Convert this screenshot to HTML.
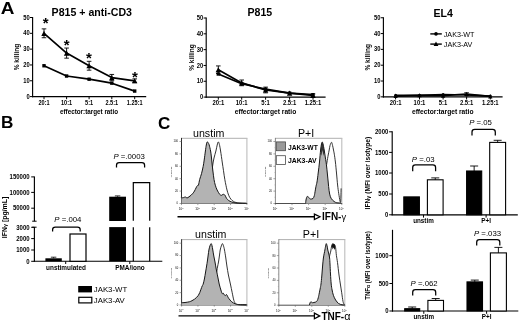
<!DOCTYPE html>
<html lang="en"><head><meta charset="utf-8"><title>Figure</title>
<style>html,body{margin:0;padding:0;background:#fff;}body{width:520px;height:322px;overflow:hidden;}svg{display:block;font-family:'Liberation Sans', sans-serif;}text{fill:#000;}</style>
</head><body>
<svg width="520" height="322" viewBox="0 0 520 322" role="img" aria-label="Figure panels A, B and C">
<rect x="0" y="0" width="520" height="322" fill="#fff"/>
<text x="0.7" y="14.0" font-size="17.2" font-weight="bold" text-anchor="start" textLength="13.7" lengthAdjust="spacingAndGlyphs">A</text>
<text x="1.0" y="128.1" font-size="17.3" font-weight="bold" text-anchor="start" textLength="12.4" lengthAdjust="spacingAndGlyphs">B</text>
<text x="158.1" y="129.1" font-size="17.2" font-weight="bold" text-anchor="start" textLength="12.3" lengthAdjust="spacingAndGlyphs">C</text>
<line x1="32.6" y1="17.0" x2="32.6" y2="97.14999999999999" stroke="#000" stroke-width="1.15" stroke-linecap="butt"/>
<line x1="32.050000000000004" y1="96.6" x2="146.2" y2="96.6" stroke="#000" stroke-width="1.15" stroke-linecap="butt"/>
<line x1="30.0" y1="96.6" x2="32.6" y2="96.6" stroke="#000" stroke-width="1.0" stroke-linecap="butt"/>
<text x="29.700000000000003" y="98.7" font-size="6.3" font-weight="bold" text-anchor="end" textLength="3.23" lengthAdjust="spacingAndGlyphs">0</text>
<line x1="30.0" y1="80.78" x2="32.6" y2="80.78" stroke="#000" stroke-width="1.0" stroke-linecap="butt"/>
<text x="29.700000000000003" y="82.88" font-size="6.3" font-weight="bold" text-anchor="end" textLength="6.45" lengthAdjust="spacingAndGlyphs">10</text>
<line x1="30.0" y1="64.96" x2="32.6" y2="64.96" stroke="#000" stroke-width="1.0" stroke-linecap="butt"/>
<text x="29.700000000000003" y="67.06" font-size="6.3" font-weight="bold" text-anchor="end" textLength="6.45" lengthAdjust="spacingAndGlyphs">20</text>
<line x1="30.0" y1="49.13999999999999" x2="32.6" y2="49.13999999999999" stroke="#000" stroke-width="1.0" stroke-linecap="butt"/>
<text x="29.700000000000003" y="51.24" font-size="6.3" font-weight="bold" text-anchor="end" textLength="6.45" lengthAdjust="spacingAndGlyphs">30</text>
<line x1="30.0" y1="33.31999999999999" x2="32.6" y2="33.31999999999999" stroke="#000" stroke-width="1.0" stroke-linecap="butt"/>
<text x="29.700000000000003" y="35.42" font-size="6.3" font-weight="bold" text-anchor="end" textLength="6.45" lengthAdjust="spacingAndGlyphs">40</text>
<line x1="30.0" y1="17.5" x2="32.6" y2="17.5" stroke="#000" stroke-width="1.0" stroke-linecap="butt"/>
<text x="29.700000000000003" y="19.6" font-size="6.3" font-weight="bold" text-anchor="end" textLength="6.45" lengthAdjust="spacingAndGlyphs">50</text>
<line x1="44" y1="96.6" x2="44" y2="99.19999999999999" stroke="#000" stroke-width="1.0" stroke-linecap="butt"/>
<text x="44" y="104.8" font-size="6.3" font-weight="bold" text-anchor="middle" textLength="11.11" lengthAdjust="spacingAndGlyphs">20:1</text>
<line x1="66.6" y1="96.6" x2="66.6" y2="99.19999999999999" stroke="#000" stroke-width="1.0" stroke-linecap="butt"/>
<text x="66.6" y="104.8" font-size="6.3" font-weight="bold" text-anchor="middle" textLength="11.11" lengthAdjust="spacingAndGlyphs">10:1</text>
<line x1="89.1" y1="96.6" x2="89.1" y2="99.19999999999999" stroke="#000" stroke-width="1.0" stroke-linecap="butt"/>
<text x="89.1" y="104.8" font-size="6.3" font-weight="bold" text-anchor="middle" textLength="8.02" lengthAdjust="spacingAndGlyphs">5:1</text>
<line x1="111.8" y1="96.6" x2="111.8" y2="99.19999999999999" stroke="#000" stroke-width="1.0" stroke-linecap="butt"/>
<text x="111.8" y="104.8" font-size="6.3" font-weight="bold" text-anchor="middle" textLength="12.65" lengthAdjust="spacingAndGlyphs">2.5:1</text>
<line x1="134.7" y1="96.6" x2="134.7" y2="99.19999999999999" stroke="#000" stroke-width="1.0" stroke-linecap="butt"/>
<text x="134.7" y="104.8" font-size="6.3" font-weight="bold" text-anchor="middle" textLength="15.74" lengthAdjust="spacingAndGlyphs">1.25:1</text>
<text x="89" y="113.9" font-size="6.3" font-weight="bold" text-anchor="middle">effector:target ratio</text>
<text x="18.9" y="57.0" font-size="6.55" font-weight="bold" text-anchor="middle" transform="rotate(-90 18.9 57.0)">% killing</text>
<text x="91.8" y="15.5" font-size="10.6" font-weight="bold" text-anchor="middle">P815 + anti-CD3</text>
<line x1="44" y1="28.8904" x2="44" y2="37.749599999999994" stroke="#000" stroke-width="0.9" stroke-linecap="butt"/>
<line x1="41.7" y1="28.8904" x2="46.3" y2="28.8904" stroke="#000" stroke-width="0.9" stroke-linecap="butt"/>
<line x1="41.7" y1="37.749599999999994" x2="46.3" y2="37.749599999999994" stroke="#000" stroke-width="0.9" stroke-linecap="butt"/>
<line x1="66.6" y1="48.032599999999995" x2="66.6" y2="58.157399999999996" stroke="#000" stroke-width="0.9" stroke-linecap="butt"/>
<line x1="64.3" y1="48.032599999999995" x2="68.89999999999999" y2="48.032599999999995" stroke="#000" stroke-width="0.9" stroke-linecap="butt"/>
<line x1="64.3" y1="58.157399999999996" x2="68.89999999999999" y2="58.157399999999996" stroke="#000" stroke-width="0.9" stroke-linecap="butt"/>
<line x1="89.1" y1="61.3214" x2="89.1" y2="70.1806" stroke="#000" stroke-width="0.9" stroke-linecap="butt"/>
<line x1="86.8" y1="61.3214" x2="91.39999999999999" y2="61.3214" stroke="#000" stroke-width="0.9" stroke-linecap="butt"/>
<line x1="86.8" y1="70.1806" x2="91.39999999999999" y2="70.1806" stroke="#000" stroke-width="0.9" stroke-linecap="butt"/>
<line x1="111.8" y1="74.452" x2="111.8" y2="80.78" stroke="#000" stroke-width="0.9" stroke-linecap="butt"/>
<line x1="109.5" y1="74.452" x2="114.1" y2="74.452" stroke="#000" stroke-width="0.9" stroke-linecap="butt"/>
<line x1="109.5" y1="80.78" x2="114.1" y2="80.78" stroke="#000" stroke-width="0.9" stroke-linecap="butt"/>
<line x1="134.7" y1="78.88159999999999" x2="134.7" y2="82.6784" stroke="#000" stroke-width="0.9" stroke-linecap="butt"/>
<line x1="132.39999999999998" y1="78.88159999999999" x2="137.0" y2="78.88159999999999" stroke="#000" stroke-width="0.9" stroke-linecap="butt"/>
<line x1="132.39999999999998" y1="82.6784" x2="137.0" y2="82.6784" stroke="#000" stroke-width="0.9" stroke-linecap="butt"/>
<path d="M44.0 65.8 L66.6 76.0 L89.1 79.2 L111.8 83.2 L134.7 91.1" fill="none" stroke="#000" stroke-width="1.7" stroke-linejoin="round"/>
<path d="M44.0 33.3 L66.6 53.1 L89.1 65.8 L111.8 77.6 L134.7 80.8" fill="none" stroke="#000" stroke-width="1.7" stroke-linejoin="round"/>
<rect x="42.30" y="64.05" width="3.4" height="3.4" fill="#000"/>
<rect x="64.90" y="74.33" width="3.4" height="3.4" fill="#000"/>
<rect x="87.40" y="77.50" width="3.4" height="3.4" fill="#000"/>
<rect x="110.10" y="81.45" width="3.4" height="3.4" fill="#000"/>
<rect x="133.00" y="89.36" width="3.4" height="3.4" fill="#000"/>
<path d="M44.00 30.75 L46.70 35.88 L41.30 35.88 Z" fill="#000"/>
<path d="M66.60 50.53 L69.30 55.66 L63.90 55.66 Z" fill="#000"/>
<path d="M89.10 63.19 L91.80 68.32 L86.40 68.32 Z" fill="#000"/>
<path d="M111.80 75.05 L114.50 80.18 L109.10 80.18 Z" fill="#000"/>
<path d="M134.70 78.22 L137.40 83.34 L132.00 83.34 Z" fill="#000"/>
<text x="45.6" y="28.2" font-size="15" font-weight="bold" text-anchor="middle">*</text>
<text x="66.6" y="49.6" font-size="15" font-weight="bold" text-anchor="middle">*</text>
<text x="89" y="63" font-size="15" font-weight="bold" text-anchor="middle">*</text>
<text x="135" y="81.6" font-size="15" font-weight="bold" text-anchor="middle">*</text>
<line x1="206.2" y1="17.5" x2="206.2" y2="97.64999999999999" stroke="#000" stroke-width="1.15" stroke-linecap="butt"/>
<line x1="205.64999999999998" y1="97.1" x2="325.6" y2="97.1" stroke="#000" stroke-width="1.15" stroke-linecap="butt"/>
<line x1="203.6" y1="97.1" x2="206.2" y2="97.1" stroke="#000" stroke-width="1.0" stroke-linecap="butt"/>
<text x="203.29999999999998" y="99.2" font-size="6.3" font-weight="bold" text-anchor="end" textLength="3.23" lengthAdjust="spacingAndGlyphs">0</text>
<line x1="203.6" y1="81.28" x2="206.2" y2="81.28" stroke="#000" stroke-width="1.0" stroke-linecap="butt"/>
<text x="203.29999999999998" y="83.38" font-size="6.3" font-weight="bold" text-anchor="end" textLength="6.45" lengthAdjust="spacingAndGlyphs">10</text>
<line x1="203.6" y1="65.46" x2="206.2" y2="65.46" stroke="#000" stroke-width="1.0" stroke-linecap="butt"/>
<text x="203.29999999999998" y="67.56" font-size="6.3" font-weight="bold" text-anchor="end" textLength="6.45" lengthAdjust="spacingAndGlyphs">20</text>
<line x1="203.6" y1="49.63999999999999" x2="206.2" y2="49.63999999999999" stroke="#000" stroke-width="1.0" stroke-linecap="butt"/>
<text x="203.29999999999998" y="51.74" font-size="6.3" font-weight="bold" text-anchor="end" textLength="6.45" lengthAdjust="spacingAndGlyphs">30</text>
<line x1="203.6" y1="33.81999999999999" x2="206.2" y2="33.81999999999999" stroke="#000" stroke-width="1.0" stroke-linecap="butt"/>
<text x="203.29999999999998" y="35.92" font-size="6.3" font-weight="bold" text-anchor="end" textLength="6.45" lengthAdjust="spacingAndGlyphs">40</text>
<line x1="203.6" y1="18.0" x2="206.2" y2="18.0" stroke="#000" stroke-width="1.0" stroke-linecap="butt"/>
<text x="203.29999999999998" y="20.1" font-size="6.3" font-weight="bold" text-anchor="end" textLength="6.45" lengthAdjust="spacingAndGlyphs">50</text>
<line x1="218.3" y1="97.1" x2="218.3" y2="99.69999999999999" stroke="#000" stroke-width="1.0" stroke-linecap="butt"/>
<text x="218.3" y="105.1" font-size="6.3" font-weight="bold" text-anchor="middle" textLength="11.78" lengthAdjust="spacingAndGlyphs">20:1</text>
<line x1="241.7" y1="97.1" x2="241.7" y2="99.69999999999999" stroke="#000" stroke-width="1.0" stroke-linecap="butt"/>
<text x="241.7" y="105.1" font-size="6.3" font-weight="bold" text-anchor="middle" textLength="11.78" lengthAdjust="spacingAndGlyphs">10:1</text>
<line x1="265.6" y1="97.1" x2="265.6" y2="99.69999999999999" stroke="#000" stroke-width="1.0" stroke-linecap="butt"/>
<text x="265.6" y="105.1" font-size="6.3" font-weight="bold" text-anchor="middle" textLength="8.5" lengthAdjust="spacingAndGlyphs">5:1</text>
<line x1="289.6" y1="97.1" x2="289.6" y2="99.69999999999999" stroke="#000" stroke-width="1.0" stroke-linecap="butt"/>
<text x="289.6" y="105.1" font-size="6.3" font-weight="bold" text-anchor="middle" textLength="13.41" lengthAdjust="spacingAndGlyphs">2.5:1</text>
<line x1="313.0" y1="97.1" x2="313.0" y2="99.69999999999999" stroke="#000" stroke-width="1.0" stroke-linecap="butt"/>
<text x="313.0" y="105.1" font-size="6.3" font-weight="bold" text-anchor="middle" textLength="16.68" lengthAdjust="spacingAndGlyphs">1.25:1</text>
<text x="265.5" y="114.4" font-size="6.68" font-weight="bold" text-anchor="middle">effector:target ratio</text>
<text x="193.9" y="57.5" font-size="6.55" font-weight="bold" text-anchor="middle" transform="rotate(-90 193.9 57.5)">% killing</text>
<text x="259.8" y="15.5" font-size="10.6" font-weight="bold" text-anchor="middle">P815</text>
<line x1="218.3" y1="65.9346" x2="218.3" y2="73.5282" stroke="#000" stroke-width="0.9" stroke-linecap="butt"/>
<line x1="216.0" y1="65.9346" x2="220.60000000000002" y2="65.9346" stroke="#000" stroke-width="0.9" stroke-linecap="butt"/>
<line x1="216.0" y1="73.5282" x2="220.60000000000002" y2="73.5282" stroke="#000" stroke-width="0.9" stroke-linecap="butt"/>
<line x1="241.7" y1="80.0144" x2="241.7" y2="85.7096" stroke="#000" stroke-width="0.9" stroke-linecap="butt"/>
<line x1="239.39999999999998" y1="80.0144" x2="244.0" y2="80.0144" stroke="#000" stroke-width="0.9" stroke-linecap="butt"/>
<line x1="239.39999999999998" y1="85.7096" x2="244.0" y2="85.7096" stroke="#000" stroke-width="0.9" stroke-linecap="butt"/>
<line x1="265.6" y1="87.1334" x2="265.6" y2="92.8286" stroke="#000" stroke-width="0.9" stroke-linecap="butt"/>
<line x1="263.3" y1="87.1334" x2="267.90000000000003" y2="87.1334" stroke="#000" stroke-width="0.9" stroke-linecap="butt"/>
<line x1="263.3" y1="92.8286" x2="267.90000000000003" y2="92.8286" stroke="#000" stroke-width="0.9" stroke-linecap="butt"/>
<line x1="313.0" y1="93.93599999999999" x2="313.0" y2="97.1" stroke="#000" stroke-width="0.9" stroke-linecap="butt"/>
<line x1="310.7" y1="93.93599999999999" x2="315.3" y2="93.93599999999999" stroke="#000" stroke-width="0.9" stroke-linecap="butt"/>
<line x1="310.7" y1="97.1" x2="315.3" y2="97.1" stroke="#000" stroke-width="0.9" stroke-linecap="butt"/>
<path d="M218.3 74.0 L241.7 83.7 L265.6 89.2 L289.6 93.1 L313.0 94.7" fill="none" stroke="#000" stroke-width="1.7" stroke-linejoin="round"/>
<path d="M218.3 69.7 L241.7 82.9 L265.6 90.0 L289.6 93.1 L313.0 95.5" fill="none" stroke="#000" stroke-width="1.7" stroke-linejoin="round"/>
<rect x="216.60" y="72.30" width="3.4" height="3.4" fill="#000"/>
<rect x="240.00" y="81.95" width="3.4" height="3.4" fill="#000"/>
<rect x="263.90" y="87.49" width="3.4" height="3.4" fill="#000"/>
<rect x="287.90" y="91.44" width="3.4" height="3.4" fill="#000"/>
<rect x="311.30" y="93.03" width="3.4" height="3.4" fill="#000"/>
<path d="M218.30 67.17 L221.00 72.30 L215.60 72.30 Z" fill="#000"/>
<path d="M241.70 80.30 L244.40 85.43 L239.00 85.43 Z" fill="#000"/>
<path d="M265.60 87.42 L268.30 92.55 L262.90 92.55 Z" fill="#000"/>
<path d="M289.60 90.58 L292.30 95.71 L286.90 95.71 Z" fill="#000"/>
<path d="M313.00 92.95 L315.70 98.08 L310.30 98.08 Z" fill="#000"/>
<line x1="383.4" y1="17.25" x2="383.4" y2="97.39999999999999" stroke="#000" stroke-width="1.15" stroke-linecap="butt"/>
<line x1="382.84999999999997" y1="96.85" x2="502.6" y2="96.85" stroke="#000" stroke-width="1.15" stroke-linecap="butt"/>
<line x1="380.79999999999995" y1="96.85" x2="383.4" y2="96.85" stroke="#000" stroke-width="1.0" stroke-linecap="butt"/>
<text x="380.5" y="98.95" font-size="6.3" font-weight="bold" text-anchor="end" textLength="3.23" lengthAdjust="spacingAndGlyphs">0</text>
<line x1="380.79999999999995" y1="81.03" x2="383.4" y2="81.03" stroke="#000" stroke-width="1.0" stroke-linecap="butt"/>
<text x="380.5" y="83.13" font-size="6.3" font-weight="bold" text-anchor="end" textLength="6.45" lengthAdjust="spacingAndGlyphs">10</text>
<line x1="380.79999999999995" y1="65.21" x2="383.4" y2="65.21" stroke="#000" stroke-width="1.0" stroke-linecap="butt"/>
<text x="380.5" y="67.31" font-size="6.3" font-weight="bold" text-anchor="end" textLength="6.45" lengthAdjust="spacingAndGlyphs">20</text>
<line x1="380.79999999999995" y1="49.38999999999999" x2="383.4" y2="49.38999999999999" stroke="#000" stroke-width="1.0" stroke-linecap="butt"/>
<text x="380.5" y="51.49" font-size="6.3" font-weight="bold" text-anchor="end" textLength="6.45" lengthAdjust="spacingAndGlyphs">30</text>
<line x1="380.79999999999995" y1="33.56999999999999" x2="383.4" y2="33.56999999999999" stroke="#000" stroke-width="1.0" stroke-linecap="butt"/>
<text x="380.5" y="35.67" font-size="6.3" font-weight="bold" text-anchor="end" textLength="6.45" lengthAdjust="spacingAndGlyphs">40</text>
<line x1="380.79999999999995" y1="17.75" x2="383.4" y2="17.75" stroke="#000" stroke-width="1.0" stroke-linecap="butt"/>
<text x="380.5" y="19.85" font-size="6.3" font-weight="bold" text-anchor="end" textLength="6.45" lengthAdjust="spacingAndGlyphs">50</text>
<line x1="395.6" y1="96.85" x2="395.6" y2="99.44999999999999" stroke="#000" stroke-width="1.0" stroke-linecap="butt"/>
<text x="395.6" y="104.9" font-size="6.3" font-weight="bold" text-anchor="middle" textLength="11.78" lengthAdjust="spacingAndGlyphs">20:1</text>
<line x1="419.5" y1="96.85" x2="419.5" y2="99.44999999999999" stroke="#000" stroke-width="1.0" stroke-linecap="butt"/>
<text x="419.5" y="104.9" font-size="6.3" font-weight="bold" text-anchor="middle" textLength="11.78" lengthAdjust="spacingAndGlyphs">10:1</text>
<line x1="443.1" y1="96.85" x2="443.1" y2="99.44999999999999" stroke="#000" stroke-width="1.0" stroke-linecap="butt"/>
<text x="443.1" y="104.9" font-size="6.3" font-weight="bold" text-anchor="middle" textLength="8.5" lengthAdjust="spacingAndGlyphs">5:1</text>
<line x1="466.6" y1="96.85" x2="466.6" y2="99.44999999999999" stroke="#000" stroke-width="1.0" stroke-linecap="butt"/>
<text x="466.6" y="104.9" font-size="6.3" font-weight="bold" text-anchor="middle" textLength="13.41" lengthAdjust="spacingAndGlyphs">2.5:1</text>
<line x1="490.3" y1="96.85" x2="490.3" y2="99.44999999999999" stroke="#000" stroke-width="1.0" stroke-linecap="butt"/>
<text x="490.3" y="104.9" font-size="6.3" font-weight="bold" text-anchor="middle" textLength="16.68" lengthAdjust="spacingAndGlyphs">1.25:1</text>
<text x="442.7" y="114.1" font-size="6.68" font-weight="bold" text-anchor="middle">effector:target ratio</text>
<text x="369.6" y="57.3" font-size="6.55" font-weight="bold" text-anchor="middle" transform="rotate(-90 369.6 57.3)">% killing</text>
<text x="443.2" y="16.5" font-size="10.6" font-weight="bold" text-anchor="middle">EL4</text>
<line x1="466.6" y1="92.73679999999999" x2="466.6" y2="95.268" stroke="#000" stroke-width="0.9" stroke-linecap="butt"/>
<line x1="464.3" y1="92.73679999999999" x2="468.90000000000003" y2="92.73679999999999" stroke="#000" stroke-width="0.9" stroke-linecap="butt"/>
<line x1="464.3" y1="95.268" x2="468.90000000000003" y2="95.268" stroke="#000" stroke-width="0.9" stroke-linecap="butt"/>
<path d="M395.6 95.3 L419.5 95.3 L443.1 94.5 L466.6 95.0 L490.3 96.1" fill="none" stroke="#000" stroke-width="1.7" stroke-linejoin="round"/>
<path d="M395.6 96.1 L419.5 95.3 L443.1 95.6 L466.6 94.0 L490.3 96.4" fill="none" stroke="#000" stroke-width="1.7" stroke-linejoin="round"/>
<circle cx="395.6" cy="95.268" r="1.5" fill="#000"/>
<circle cx="419.5" cy="95.268" r="1.5" fill="#000"/>
<circle cx="443.1" cy="94.47699999999999" r="1.5" fill="#000"/>
<circle cx="466.6" cy="94.9516" r="1.5" fill="#000"/>
<circle cx="490.3" cy="96.059" r="1.5" fill="#000"/>
<path d="M395.60 94.01 L397.76 98.11 L393.44 98.11 Z" fill="#000"/>
<path d="M419.50 93.22 L421.66 97.32 L417.34 97.32 Z" fill="#000"/>
<path d="M443.10 93.53 L445.26 97.64 L440.94 97.64 Z" fill="#000"/>
<path d="M466.60 91.95 L468.76 96.05 L464.44 96.05 Z" fill="#000"/>
<path d="M490.30 94.32 L492.46 98.43 L488.14 98.43 Z" fill="#000"/>
<line x1="430.3" y1="33.9" x2="441.8" y2="33.9" stroke="#000" stroke-width="1.4" stroke-linecap="butt"/>
<circle cx="436" cy="33.9" r="1.8" fill="#000"/>
<line x1="430.3" y1="44.1" x2="441.8" y2="44.1" stroke="#000" stroke-width="1.4" stroke-linecap="butt"/>
<path d="M436.00 41.42 L438.40 45.98 L433.60 45.98 Z" fill="#000"/>
<text x="443.8" y="36.5" font-size="7.2" font-weight="normal" text-anchor="start" textLength="30.6" lengthAdjust="spacingAndGlyphs">JAK3-WT</text>
<text x="443.8" y="46.6" font-size="7.2" font-weight="normal" text-anchor="start" textLength="28.6" lengthAdjust="spacingAndGlyphs">JAK3-AV</text>
<line x1="34.4" y1="176.4" x2="34.4" y2="221.2" stroke="#000" stroke-width="1.15" stroke-linecap="butt"/>
<line x1="34.4" y1="227.0" x2="34.4" y2="261.8" stroke="#000" stroke-width="1.15" stroke-linecap="butt"/>
<line x1="32.199999999999996" y1="221.2" x2="36.6" y2="221.2" stroke="#000" stroke-width="1.0" stroke-linecap="butt"/>
<line x1="32.199999999999996" y1="227.2" x2="36.6" y2="227.2" stroke="#000" stroke-width="1.0" stroke-linecap="butt"/>
<line x1="33.85" y1="261.2" x2="162.3" y2="261.2" stroke="#000" stroke-width="1.15" stroke-linecap="butt"/>
<line x1="31.2" y1="176.9" x2="34.4" y2="176.9" stroke="#000" stroke-width="1.0" stroke-linecap="butt"/>
<text x="29.599999999999998" y="179.1" font-size="6.4" font-weight="bold" text-anchor="end" textLength="20.02" lengthAdjust="spacingAndGlyphs">150000</text>
<line x1="31.2" y1="192.4" x2="34.4" y2="192.4" stroke="#000" stroke-width="1.0" stroke-linecap="butt"/>
<text x="29.599999999999998" y="194.6" font-size="6.4" font-weight="bold" text-anchor="end" textLength="20.02" lengthAdjust="spacingAndGlyphs">100000</text>
<line x1="31.2" y1="208.2" x2="34.4" y2="208.2" stroke="#000" stroke-width="1.0" stroke-linecap="butt"/>
<text x="29.599999999999998" y="210.4" font-size="6.4" font-weight="bold" text-anchor="end" textLength="16.69" lengthAdjust="spacingAndGlyphs">50000</text>
<line x1="31.2" y1="227.3" x2="34.4" y2="227.3" stroke="#000" stroke-width="1.0" stroke-linecap="butt"/>
<text x="29.599999999999998" y="229.5" font-size="6.4" font-weight="bold" text-anchor="end" textLength="13.35" lengthAdjust="spacingAndGlyphs">3000</text>
<line x1="31.2" y1="238.6" x2="34.4" y2="238.6" stroke="#000" stroke-width="1.0" stroke-linecap="butt"/>
<text x="29.599999999999998" y="240.8" font-size="6.4" font-weight="bold" text-anchor="end" textLength="13.35" lengthAdjust="spacingAndGlyphs">2000</text>
<line x1="31.2" y1="250" x2="34.4" y2="250" stroke="#000" stroke-width="1.0" stroke-linecap="butt"/>
<text x="29.599999999999998" y="252.2" font-size="6.4" font-weight="bold" text-anchor="end" textLength="13.35" lengthAdjust="spacingAndGlyphs">1000</text>
<line x1="31.2" y1="261.3" x2="34.4" y2="261.3" stroke="#000" stroke-width="1.0" stroke-linecap="butt"/>
<text x="29.599999999999998" y="263.5" font-size="6.4" font-weight="bold" text-anchor="end" textLength="3.34" lengthAdjust="spacingAndGlyphs">0</text>
<text x="6.6" y="217.5" font-size="6.9" font-weight="bold" text-anchor="middle" transform="rotate(-90 6.6 217.5)">IFN<tspan font-size="5.6">γ</tspan> [pg/mL]</text>
<rect x="45.4" y="258.3" width="16.4" height="3" fill="#000"/>
<line x1="53.6" y1="257.2" x2="53.6" y2="258.3" stroke="#000" stroke-width="0.8" stroke-linecap="butt"/>
<line x1="50.85" y1="257.2" x2="56.35" y2="257.2" stroke="#000" stroke-width="0.8" stroke-linecap="butt"/>
<rect x="70.0" y="234.0" width="16.0" height="27.3" fill="#fff" stroke="#000" stroke-width="1.2"/>
<rect x="109.2" y="196.7" width="16.8" height="24.3" fill="#000"/>
<rect x="109.2" y="227.1" width="16.8" height="34.2" fill="#000"/>
<line x1="117.6" y1="195.9" x2="117.6" y2="196.8" stroke="#000" stroke-width="0.8" stroke-linecap="butt"/>
<line x1="114.85" y1="195.9" x2="120.35" y2="195.9" stroke="#000" stroke-width="0.8" stroke-linecap="butt"/>
<path d="M133.3 220.8 L133.3 182.6 L149.7 182.6 L149.7 220.8 M133.3 227.3 L133.3 261.3 M149.7 227.3 L149.7 261.3" fill="none" stroke="#000" stroke-width="1.2"/>
<line x1="65.7" y1="261.3" x2="65.7" y2="264.0" stroke="#000" stroke-width="1.0" stroke-linecap="butt"/>
<line x1="129.8" y1="261.3" x2="129.8" y2="264.0" stroke="#000" stroke-width="1.0" stroke-linecap="butt"/>
<text x="66" y="270.4" font-size="6.4" font-weight="bold" text-anchor="middle">unstimulated</text>
<text x="130" y="270.4" font-size="6.4" font-weight="bold" text-anchor="middle">PMA/iono</text>
<text x="54.3" y="222.0" font-size="7.8" font-weight="normal" fill="#222"><tspan font-style="italic">P</tspan> =.004</text>
<path d="M52.6 231.6 L52.6 229.7 Q52.6 227.0 55.300000000000004 227.0 L77.5 227.0 Q80.2 227.0 80.2 229.7 L80.2 231.6" fill="none" stroke="#000" stroke-width="1.25"/>
<text x="113.4" y="158.7" font-size="7.8" font-weight="normal" fill="#222"><tspan font-style="italic">P</tspan> =.0003</text>
<path d="M116.5 167.4 L116.5 165.2 Q116.5 162.5 119.2 162.5 L141.9 162.5 Q144.6 162.5 144.6 165.2 L144.6 167.4" fill="none" stroke="#000" stroke-width="1.25"/>
<rect x="78.2" y="286.0" width="13.8" height="6.4" fill="#000"/>
<rect x="78.8" y="297.3" width="13.0" height="5.6" fill="#fff" stroke="#000" stroke-width="1.2"/>
<text x="93.8" y="291.6" font-size="7.9" font-weight="normal" text-anchor="start" textLength="33.4" lengthAdjust="spacingAndGlyphs">JAK3-WT</text>
<text x="93.8" y="302.5" font-size="7.9" font-weight="normal" text-anchor="start" textLength="31.0" lengthAdjust="spacingAndGlyphs">JAK3-AV</text>
<line x1="181.5" y1="138.3" x2="247.4" y2="138.3" stroke="#a6a6a6" stroke-width="0.9" stroke-linecap="butt"/>
<line x1="246.9" y1="138.3" x2="246.9" y2="203.5" stroke="#bdbdbd" stroke-width="1.1" stroke-linecap="butt"/>
<line x1="181.5" y1="137.9" x2="181.5" y2="203.9" stroke="#2b2b2b" stroke-width="1.0" stroke-linecap="butt"/>
<line x1="181.1" y1="203.5" x2="247.3" y2="203.5" stroke="#3a3a3a" stroke-width="0.9" stroke-linecap="butt"/>
<line x1="179.5" y1="203.5" x2="181.5" y2="203.5" stroke="#666" stroke-width="0.6" stroke-linecap="butt"/>
<text x="178.1" y="204.4" font-size="2.7" font-weight="normal" text-anchor="end" fill="#666">0</text>
<line x1="179.5" y1="191.1" x2="181.5" y2="191.1" stroke="#666" stroke-width="0.6" stroke-linecap="butt"/>
<text x="178.1" y="192.0" font-size="2.7" font-weight="normal" text-anchor="end" fill="#666">20</text>
<line x1="179.5" y1="178.7" x2="181.5" y2="178.7" stroke="#666" stroke-width="0.6" stroke-linecap="butt"/>
<text x="178.1" y="179.6" font-size="2.7" font-weight="normal" text-anchor="end" fill="#666">40</text>
<line x1="179.5" y1="166.3" x2="181.5" y2="166.3" stroke="#666" stroke-width="0.6" stroke-linecap="butt"/>
<text x="178.1" y="167.2" font-size="2.7" font-weight="normal" text-anchor="end" fill="#666">60</text>
<line x1="179.5" y1="153.9" x2="181.5" y2="153.9" stroke="#666" stroke-width="0.6" stroke-linecap="butt"/>
<text x="178.1" y="154.8" font-size="2.7" font-weight="normal" text-anchor="end" fill="#666">80</text>
<line x1="179.5" y1="141.5" x2="181.5" y2="141.5" stroke="#666" stroke-width="0.6" stroke-linecap="butt"/>
<text x="178.1" y="142.4" font-size="2.7" font-weight="normal" text-anchor="end" fill="#666">100</text>
<line x1="180.5" y1="197.3" x2="181.5" y2="197.3" stroke="#888" stroke-width="0.4" stroke-linecap="butt"/>
<line x1="180.5" y1="184.9" x2="181.5" y2="184.9" stroke="#888" stroke-width="0.4" stroke-linecap="butt"/>
<line x1="180.5" y1="172.5" x2="181.5" y2="172.5" stroke="#888" stroke-width="0.4" stroke-linecap="butt"/>
<line x1="180.5" y1="160.1" x2="181.5" y2="160.1" stroke="#888" stroke-width="0.4" stroke-linecap="butt"/>
<line x1="180.5" y1="147.7" x2="181.5" y2="147.7" stroke="#888" stroke-width="0.4" stroke-linecap="butt"/>
<text x="172.1" y="171.9" font-size="2.5" font-weight="normal" text-anchor="middle" transform="rotate(-90 172.1 171.9)" fill="#666">% of Max</text>
<line x1="181.5" y1="203.5" x2="181.5" y2="205.1" stroke="#666" stroke-width="0.6" stroke-linecap="butt"/>
<text x="181.10" y="210.10" font-size="3.0" font-weight="normal" text-anchor="middle" fill="#777">10<tspan dy="-1.3" font-size="2.2">0</tspan></text>
<line x1="197.85" y1="203.5" x2="197.85" y2="205.1" stroke="#666" stroke-width="0.6" stroke-linecap="butt"/>
<text x="197.45" y="210.10" font-size="3.0" font-weight="normal" text-anchor="middle" fill="#777">10<tspan dy="-1.3" font-size="2.2">1</tspan></text>
<line x1="214.2" y1="203.5" x2="214.2" y2="205.1" stroke="#666" stroke-width="0.6" stroke-linecap="butt"/>
<text x="213.80" y="210.10" font-size="3.0" font-weight="normal" text-anchor="middle" fill="#777">10<tspan dy="-1.3" font-size="2.2">2</tspan></text>
<line x1="230.55" y1="203.5" x2="230.55" y2="205.1" stroke="#666" stroke-width="0.6" stroke-linecap="butt"/>
<text x="230.15" y="210.10" font-size="3.0" font-weight="normal" text-anchor="middle" fill="#777">10<tspan dy="-1.3" font-size="2.2">3</tspan></text>
<line x1="246.9" y1="203.5" x2="246.9" y2="205.1" stroke="#666" stroke-width="0.6" stroke-linecap="butt"/>
<text x="246.50" y="210.10" font-size="3.0" font-weight="normal" text-anchor="middle" fill="#777">10<tspan dy="-1.3" font-size="2.2">4</tspan></text>
<path d="M212.00 173.00 C212.10 171.83 212.27 168.50 212.60 166.00 C212.93 163.50 213.45 160.50 214.00 158.00 C214.55 155.50 215.37 153.17 215.90 151.00 C216.43 148.83 216.80 146.52 217.20 145.00 C217.60 143.48 217.93 141.98 218.30 141.90 C218.67 141.82 219.02 142.98 219.40 144.50 C219.78 146.02 220.13 148.08 220.60 151.00 C221.07 153.92 221.72 158.72 222.20 162.00 C222.68 165.28 223.07 167.80 223.50 170.70 C223.93 173.60 224.38 176.93 224.80 179.40 C225.22 181.87 225.63 183.73 226.00 185.50 C226.37 187.27 226.55 188.37 227.00 190.00 C227.45 191.63 228.05 193.77 228.70 195.30 C229.35 196.83 230.10 198.18 230.90 199.20 C231.70 200.22 232.65 200.85 233.50 201.40 C234.35 201.95 234.92 202.22 236.00 202.50 C237.08 202.78 238.25 202.97 240.00 203.10 C241.75 203.23 245.42 203.27 246.50 203.30" fill="none" stroke="#1c1c1c" stroke-width="0.9" stroke-linejoin="round"/>
<path d="M181.50 197.90 C181.83 197.85 182.85 197.75 183.50 197.60 C184.15 197.45 184.82 196.93 185.40 197.00 C185.98 197.07 186.40 198.03 187.00 198.00 C187.60 197.97 188.33 197.25 189.00 196.80 C189.67 196.35 190.33 195.90 191.00 195.30 C191.67 194.70 192.42 193.92 193.00 193.20 C193.58 192.48 194.00 191.87 194.50 191.00 C195.00 190.13 195.62 188.77 196.00 188.00 C196.38 187.23 196.53 186.82 196.80 186.40 C197.07 185.98 197.32 185.73 197.60 185.50 C197.88 185.27 198.15 186.02 198.50 185.00 C198.85 183.98 199.20 181.28 199.70 179.40 C200.20 177.52 200.92 175.88 201.50 173.70 C202.08 171.52 202.75 168.58 203.20 166.30 C203.65 164.02 203.83 162.55 204.20 160.00 C204.57 157.45 205.05 153.50 205.40 151.00 C205.75 148.50 206.00 146.52 206.30 145.00 C206.60 143.48 206.87 142.23 207.20 141.90 C207.53 141.57 207.97 142.48 208.30 143.00 C208.63 143.52 208.82 143.67 209.20 145.00 C209.58 146.33 210.23 149.00 210.60 151.00 C210.97 153.00 211.13 154.67 211.40 157.00 C211.67 159.33 211.95 162.67 212.20 165.00 C212.45 167.33 212.60 168.60 212.90 171.00 C213.20 173.40 213.60 177.03 214.00 179.40 C214.40 181.77 214.78 183.43 215.30 185.20 C215.82 186.97 216.38 188.50 217.10 190.00 C217.82 191.50 218.90 193.30 219.60 194.20 C220.30 195.10 220.73 195.38 221.30 195.40 C221.87 195.42 222.52 194.43 223.00 194.30 C223.48 194.17 223.83 194.40 224.20 194.60 C224.57 194.80 224.82 194.88 225.20 195.50 C225.58 196.12 225.92 197.47 226.50 198.30 C227.08 199.13 227.83 199.88 228.70 200.50 C229.57 201.12 230.48 201.58 231.70 202.00 C232.92 202.42 234.45 202.80 236.00 203.00 C237.55 203.20 239.25 203.15 241.00 203.20 C242.75 203.25 245.58 203.28 246.50 203.30 L246.5 203.5 L181.5 203.5 Z" fill="#b3b3b3" stroke="none"/>
<path d="M181.50 197.90 C181.83 197.85 182.85 197.75 183.50 197.60 C184.15 197.45 184.82 196.93 185.40 197.00 C185.98 197.07 186.40 198.03 187.00 198.00 C187.60 197.97 188.33 197.25 189.00 196.80 C189.67 196.35 190.33 195.90 191.00 195.30 C191.67 194.70 192.42 193.92 193.00 193.20 C193.58 192.48 194.00 191.87 194.50 191.00 C195.00 190.13 195.62 188.77 196.00 188.00 C196.38 187.23 196.53 186.82 196.80 186.40 C197.07 185.98 197.32 185.73 197.60 185.50 C197.88 185.27 198.15 186.02 198.50 185.00 C198.85 183.98 199.20 181.28 199.70 179.40 C200.20 177.52 200.92 175.88 201.50 173.70 C202.08 171.52 202.75 168.58 203.20 166.30 C203.65 164.02 203.83 162.55 204.20 160.00 C204.57 157.45 205.05 153.50 205.40 151.00 C205.75 148.50 206.00 146.52 206.30 145.00 C206.60 143.48 206.87 142.23 207.20 141.90 C207.53 141.57 207.97 142.48 208.30 143.00 C208.63 143.52 208.82 143.67 209.20 145.00 C209.58 146.33 210.23 149.00 210.60 151.00 C210.97 153.00 211.13 154.67 211.40 157.00 C211.67 159.33 211.95 162.67 212.20 165.00 C212.45 167.33 212.60 168.60 212.90 171.00 C213.20 173.40 213.60 177.03 214.00 179.40 C214.40 181.77 214.78 183.43 215.30 185.20 C215.82 186.97 216.38 188.50 217.10 190.00 C217.82 191.50 218.90 193.30 219.60 194.20 C220.30 195.10 220.73 195.38 221.30 195.40 C221.87 195.42 222.52 194.43 223.00 194.30 C223.48 194.17 223.83 194.40 224.20 194.60 C224.57 194.80 224.82 194.88 225.20 195.50 C225.58 196.12 225.92 197.47 226.50 198.30 C227.08 199.13 227.83 199.88 228.70 200.50 C229.57 201.12 230.48 201.58 231.70 202.00 C232.92 202.42 234.45 202.80 236.00 203.00 C237.55 203.20 239.25 203.15 241.00 203.20 C242.75 203.25 245.58 203.28 246.50 203.30" fill="none" stroke="#161616" stroke-width="1.0" stroke-linejoin="round"/>
<text x="193.0" y="137.0" font-size="10.5" font-weight="normal" text-anchor="start" textLength="31.4" lengthAdjust="spacingAndGlyphs">unstim</text>
<line x1="275.4" y1="138.3" x2="342.3" y2="138.3" stroke="#a6a6a6" stroke-width="0.9" stroke-linecap="butt"/>
<line x1="341.8" y1="138.3" x2="341.8" y2="203.5" stroke="#bdbdbd" stroke-width="1.1" stroke-linecap="butt"/>
<line x1="275.4" y1="137.9" x2="275.4" y2="203.9" stroke="#6a6a6a" stroke-width="0.8" stroke-linecap="butt"/>
<line x1="275.0" y1="203.5" x2="342.2" y2="203.5" stroke="#3a3a3a" stroke-width="0.9" stroke-linecap="butt"/>
<line x1="273.4" y1="203.5" x2="275.4" y2="203.5" stroke="#666" stroke-width="0.6" stroke-linecap="butt"/>
<text x="272.0" y="204.4" font-size="2.7" font-weight="normal" text-anchor="end" fill="#666">0</text>
<line x1="273.4" y1="191.1" x2="275.4" y2="191.1" stroke="#666" stroke-width="0.6" stroke-linecap="butt"/>
<text x="272.0" y="192.0" font-size="2.7" font-weight="normal" text-anchor="end" fill="#666">20</text>
<line x1="273.4" y1="178.7" x2="275.4" y2="178.7" stroke="#666" stroke-width="0.6" stroke-linecap="butt"/>
<text x="272.0" y="179.6" font-size="2.7" font-weight="normal" text-anchor="end" fill="#666">40</text>
<line x1="273.4" y1="166.3" x2="275.4" y2="166.3" stroke="#666" stroke-width="0.6" stroke-linecap="butt"/>
<text x="272.0" y="167.2" font-size="2.7" font-weight="normal" text-anchor="end" fill="#666">60</text>
<line x1="273.4" y1="153.9" x2="275.4" y2="153.9" stroke="#666" stroke-width="0.6" stroke-linecap="butt"/>
<text x="272.0" y="154.8" font-size="2.7" font-weight="normal" text-anchor="end" fill="#666">80</text>
<line x1="273.4" y1="141.5" x2="275.4" y2="141.5" stroke="#666" stroke-width="0.6" stroke-linecap="butt"/>
<text x="272.0" y="142.4" font-size="2.7" font-weight="normal" text-anchor="end" fill="#666">100</text>
<line x1="274.4" y1="197.3" x2="275.4" y2="197.3" stroke="#888" stroke-width="0.4" stroke-linecap="butt"/>
<line x1="274.4" y1="184.9" x2="275.4" y2="184.9" stroke="#888" stroke-width="0.4" stroke-linecap="butt"/>
<line x1="274.4" y1="172.5" x2="275.4" y2="172.5" stroke="#888" stroke-width="0.4" stroke-linecap="butt"/>
<line x1="274.4" y1="160.1" x2="275.4" y2="160.1" stroke="#888" stroke-width="0.4" stroke-linecap="butt"/>
<line x1="274.4" y1="147.7" x2="275.4" y2="147.7" stroke="#888" stroke-width="0.4" stroke-linecap="butt"/>
<text x="266.0" y="171.9" font-size="2.5" font-weight="normal" text-anchor="middle" transform="rotate(-90 266.0 171.9)" fill="#666">% of Max</text>
<line x1="275.4" y1="203.5" x2="275.4" y2="205.1" stroke="#666" stroke-width="0.6" stroke-linecap="butt"/>
<text x="275.00" y="210.10" font-size="3.0" font-weight="normal" text-anchor="middle" fill="#777">10<tspan dy="-1.3" font-size="2.2">0</tspan></text>
<line x1="292.0" y1="203.5" x2="292.0" y2="205.1" stroke="#666" stroke-width="0.6" stroke-linecap="butt"/>
<text x="291.60" y="210.10" font-size="3.0" font-weight="normal" text-anchor="middle" fill="#777">10<tspan dy="-1.3" font-size="2.2">1</tspan></text>
<line x1="308.6" y1="203.5" x2="308.6" y2="205.1" stroke="#666" stroke-width="0.6" stroke-linecap="butt"/>
<text x="308.20" y="210.10" font-size="3.0" font-weight="normal" text-anchor="middle" fill="#777">10<tspan dy="-1.3" font-size="2.2">2</tspan></text>
<line x1="325.2" y1="203.5" x2="325.2" y2="205.1" stroke="#666" stroke-width="0.6" stroke-linecap="butt"/>
<text x="324.80" y="210.10" font-size="3.0" font-weight="normal" text-anchor="middle" fill="#777">10<tspan dy="-1.3" font-size="2.2">3</tspan></text>
<line x1="341.8" y1="203.5" x2="341.8" y2="205.1" stroke="#666" stroke-width="0.6" stroke-linecap="butt"/>
<text x="341.40" y="210.10" font-size="3.0" font-weight="normal" text-anchor="middle" fill="#777">10<tspan dy="-1.3" font-size="2.2">4</tspan></text>
<path d="M326.40 166.00 C326.50 165.33 326.70 163.83 327.00 162.00 C327.30 160.17 327.83 157.00 328.20 155.00 C328.57 153.00 328.90 151.57 329.20 150.00 C329.50 148.43 329.62 146.88 330.00 145.60 C330.38 144.32 331.07 142.30 331.50 142.30 C331.93 142.30 332.27 144.32 332.60 145.60 C332.93 146.88 333.22 148.57 333.50 150.00 C333.78 151.43 333.98 152.20 334.30 154.20 C334.62 156.20 335.03 158.87 335.40 162.00 C335.77 165.13 336.13 169.17 336.50 173.00 C336.87 176.83 337.23 181.62 337.60 185.00 C337.97 188.38 338.30 190.63 338.70 193.30 C339.10 195.97 339.68 199.50 340.00 201.00 C340.32 202.50 340.45 202.97 340.60 202.30 C340.75 201.63 340.82 199.32 340.90 197.00 C340.98 194.68 341.07 189.83 341.10 188.40" fill="none" stroke="#1c1c1c" stroke-width="0.9" stroke-linejoin="round"/>
<path d="M305.60 203.30 C305.70 202.58 305.90 200.17 306.20 199.00 C306.50 197.83 306.97 196.53 307.40 196.30 C307.83 196.07 308.30 197.15 308.80 197.60 C309.30 198.05 309.70 198.85 310.40 199.00 C311.10 199.15 312.37 199.00 313.00 198.50 C313.63 198.00 313.90 196.87 314.20 196.00 C314.50 195.13 314.50 194.92 314.80 193.30 C315.10 191.68 315.63 188.18 316.00 186.30 C316.37 184.42 316.63 184.22 317.00 182.00 C317.37 179.78 317.78 176.33 318.20 173.00 C318.62 169.67 319.10 165.83 319.50 162.00 C319.90 158.17 320.27 153.00 320.60 150.00 C320.93 147.00 321.23 145.33 321.50 144.00 C321.77 142.67 321.95 142.00 322.20 142.00 C322.45 142.00 322.67 142.67 323.00 144.00 C323.33 145.33 323.80 147.67 324.20 150.00 C324.60 152.33 325.03 155.58 325.40 158.00 C325.77 160.42 326.07 161.83 326.40 164.50 C326.73 167.17 327.10 171.08 327.40 174.00 C327.70 176.92 327.92 179.22 328.20 182.00 C328.48 184.78 328.73 188.23 329.10 190.70 C329.47 193.17 329.82 195.22 330.40 196.80 C330.98 198.38 331.73 199.27 332.60 200.20 C333.47 201.13 334.70 201.95 335.60 202.40 C336.50 202.85 337.22 202.80 338.00 202.90 C338.78 203.00 339.92 202.98 340.30 203.00 L340.3 203.5 L305.6 203.5 Z" fill="#b3b3b3" stroke="none"/>
<path d="M305.60 203.30 C305.70 202.58 305.90 200.17 306.20 199.00 C306.50 197.83 306.97 196.53 307.40 196.30 C307.83 196.07 308.30 197.15 308.80 197.60 C309.30 198.05 309.70 198.85 310.40 199.00 C311.10 199.15 312.37 199.00 313.00 198.50 C313.63 198.00 313.90 196.87 314.20 196.00 C314.50 195.13 314.50 194.92 314.80 193.30 C315.10 191.68 315.63 188.18 316.00 186.30 C316.37 184.42 316.63 184.22 317.00 182.00 C317.37 179.78 317.78 176.33 318.20 173.00 C318.62 169.67 319.10 165.83 319.50 162.00 C319.90 158.17 320.27 153.00 320.60 150.00 C320.93 147.00 321.23 145.33 321.50 144.00 C321.77 142.67 321.95 142.00 322.20 142.00 C322.45 142.00 322.67 142.67 323.00 144.00 C323.33 145.33 323.80 147.67 324.20 150.00 C324.60 152.33 325.03 155.58 325.40 158.00 C325.77 160.42 326.07 161.83 326.40 164.50 C326.73 167.17 327.10 171.08 327.40 174.00 C327.70 176.92 327.92 179.22 328.20 182.00 C328.48 184.78 328.73 188.23 329.10 190.70 C329.47 193.17 329.82 195.22 330.40 196.80 C330.98 198.38 331.73 199.27 332.60 200.20 C333.47 201.13 334.70 201.95 335.60 202.40 C336.50 202.85 337.22 202.80 338.00 202.90 C338.78 203.00 339.92 202.98 340.30 203.00" fill="none" stroke="#161616" stroke-width="1.0" stroke-linejoin="round"/>
<path d="M320.6 152 L321.4 144.4 L322.2 142.2 L323.2 144.6 L324.3 152 L323.6 156 L322.4 150 L321.4 156 Z" fill="#1f1f1f" opacity="0.85"/>
<text x="298.0" y="136.8" font-size="10.1" font-weight="normal" text-anchor="start" textLength="16.2" lengthAdjust="spacingAndGlyphs">P+I</text>
<rect x="276.3" y="141.9" width="9.3" height="8.8" fill="#9a9a9a" stroke="#4a4a4a" stroke-width="0.8"/>
<rect x="276.3" y="155.7" width="9.3" height="8.7" fill="#fff" stroke="#4a4a4a" stroke-width="0.8"/>
<text x="287.9" y="149.6" font-size="6.7" font-weight="bold" text-anchor="start" textLength="29.9" lengthAdjust="spacingAndGlyphs">JAK3-WT</text>
<text x="287.9" y="163.0" font-size="6.7" font-weight="bold" text-anchor="start" textLength="28.8" lengthAdjust="spacingAndGlyphs">JAK3-AV</text>
<line x1="177.5" y1="216.8" x2="314.4" y2="216.8" stroke="#000" stroke-width="1.4" stroke-linecap="butt"/>
<path d="M314.4 214.1 L320.0 216.8 L314.4 219.6 Z" fill="#fff" stroke="#000" stroke-width="1.25" stroke-linejoin="miter"/>
<text x="322.0" y="219.8" font-size="10" font-weight="bold">IFN-<tspan font-weight="normal" font-size="9.4">γ</tspan></text>
<line x1="181.6" y1="239.6" x2="247.4" y2="239.6" stroke="#a6a6a6" stroke-width="0.9" stroke-linecap="butt"/>
<line x1="246.9" y1="239.6" x2="246.9" y2="305.0" stroke="#bdbdbd" stroke-width="1.1" stroke-linecap="butt"/>
<line x1="181.6" y1="239.2" x2="181.6" y2="305.4" stroke="#2b2b2b" stroke-width="1.0" stroke-linecap="butt"/>
<line x1="181.2" y1="305.0" x2="247.3" y2="305.0" stroke="#3a3a3a" stroke-width="0.9" stroke-linecap="butt"/>
<line x1="179.6" y1="305.0" x2="181.6" y2="305.0" stroke="#666" stroke-width="0.6" stroke-linecap="butt"/>
<text x="178.2" y="305.9" font-size="2.7" font-weight="normal" text-anchor="end" fill="#666">0</text>
<line x1="179.6" y1="292.64" x2="181.6" y2="292.64" stroke="#666" stroke-width="0.6" stroke-linecap="butt"/>
<text x="178.2" y="293.54" font-size="2.7" font-weight="normal" text-anchor="end" fill="#666">20</text>
<line x1="179.6" y1="280.28" x2="181.6" y2="280.28" stroke="#666" stroke-width="0.6" stroke-linecap="butt"/>
<text x="178.2" y="281.18" font-size="2.7" font-weight="normal" text-anchor="end" fill="#666">40</text>
<line x1="179.6" y1="267.92" x2="181.6" y2="267.92" stroke="#666" stroke-width="0.6" stroke-linecap="butt"/>
<text x="178.2" y="268.82" font-size="2.7" font-weight="normal" text-anchor="end" fill="#666">60</text>
<line x1="179.6" y1="255.56" x2="181.6" y2="255.56" stroke="#666" stroke-width="0.6" stroke-linecap="butt"/>
<text x="178.2" y="256.46" font-size="2.7" font-weight="normal" text-anchor="end" fill="#666">80</text>
<line x1="179.6" y1="243.2" x2="181.6" y2="243.2" stroke="#666" stroke-width="0.6" stroke-linecap="butt"/>
<text x="178.2" y="244.1" font-size="2.7" font-weight="normal" text-anchor="end" fill="#666">100</text>
<line x1="180.6" y1="298.82" x2="181.6" y2="298.82" stroke="#888" stroke-width="0.4" stroke-linecap="butt"/>
<line x1="180.6" y1="286.46" x2="181.6" y2="286.46" stroke="#888" stroke-width="0.4" stroke-linecap="butt"/>
<line x1="180.6" y1="274.1" x2="181.6" y2="274.1" stroke="#888" stroke-width="0.4" stroke-linecap="butt"/>
<line x1="180.6" y1="261.74" x2="181.6" y2="261.74" stroke="#888" stroke-width="0.4" stroke-linecap="butt"/>
<line x1="180.6" y1="249.38" x2="181.6" y2="249.38" stroke="#888" stroke-width="0.4" stroke-linecap="butt"/>
<text x="172.2" y="273.3" font-size="2.5" font-weight="normal" text-anchor="middle" transform="rotate(-90 172.2 273.3)" fill="#666">% of Max</text>
<line x1="181.6" y1="305.0" x2="181.6" y2="306.6" stroke="#666" stroke-width="0.6" stroke-linecap="butt"/>
<text x="181.20" y="311.60" font-size="3.0" font-weight="normal" text-anchor="middle" fill="#777">10<tspan dy="-1.3" font-size="2.2">0</tspan></text>
<line x1="197.925" y1="305.0" x2="197.925" y2="306.6" stroke="#666" stroke-width="0.6" stroke-linecap="butt"/>
<text x="197.53" y="311.60" font-size="3.0" font-weight="normal" text-anchor="middle" fill="#777">10<tspan dy="-1.3" font-size="2.2">1</tspan></text>
<line x1="214.25" y1="305.0" x2="214.25" y2="306.6" stroke="#666" stroke-width="0.6" stroke-linecap="butt"/>
<text x="213.85" y="311.60" font-size="3.0" font-weight="normal" text-anchor="middle" fill="#777">10<tspan dy="-1.3" font-size="2.2">2</tspan></text>
<line x1="230.575" y1="305.0" x2="230.575" y2="306.6" stroke="#666" stroke-width="0.6" stroke-linecap="butt"/>
<text x="230.17" y="311.60" font-size="3.0" font-weight="normal" text-anchor="middle" fill="#777">10<tspan dy="-1.3" font-size="2.2">3</tspan></text>
<line x1="246.9" y1="305.0" x2="246.9" y2="306.6" stroke="#666" stroke-width="0.6" stroke-linecap="butt"/>
<text x="246.50" y="311.60" font-size="3.0" font-weight="normal" text-anchor="middle" fill="#777">10<tspan dy="-1.3" font-size="2.2">4</tspan></text>
<path d="M216.60 272.50 C216.75 271.58 217.18 268.75 217.50 267.00 C217.82 265.25 218.18 263.83 218.50 262.00 C218.82 260.17 219.12 258.00 219.40 256.00 C219.68 254.00 219.88 251.67 220.20 250.00 C220.52 248.33 220.93 247.07 221.30 246.00 C221.67 244.93 222.03 243.60 222.40 243.60 C222.77 243.60 223.15 244.93 223.50 246.00 C223.85 247.07 224.12 248.00 224.50 250.00 C224.88 252.00 225.40 255.33 225.80 258.00 C226.20 260.67 226.47 263.17 226.90 266.00 C227.33 268.83 227.82 272.00 228.40 275.00 C228.98 278.00 229.77 281.05 230.40 284.00 C231.03 286.95 231.62 289.95 232.20 292.70 C232.78 295.45 233.33 298.70 233.90 300.50 C234.47 302.30 234.92 302.83 235.60 303.50 C236.28 304.17 236.18 304.27 238.00 304.50 C239.82 304.73 245.08 304.83 246.50 304.90" fill="none" stroke="#1c1c1c" stroke-width="0.9" stroke-linejoin="round"/>
<path d="M181.60 302.70 C182.17 302.67 183.72 302.65 185.00 302.50 C186.28 302.35 188.13 302.10 189.30 301.80 C190.47 301.50 191.13 301.13 192.00 300.70 C192.87 300.27 193.73 299.75 194.50 299.20 C195.27 298.65 195.95 298.05 196.60 297.40 C197.25 296.75 197.87 296.12 198.40 295.30 C198.93 294.48 199.37 293.52 199.80 292.50 C200.23 291.48 200.60 290.28 201.00 289.20 C201.40 288.12 201.83 286.87 202.20 286.00 C202.57 285.13 202.83 285.17 203.20 284.00 C203.57 282.83 204.00 281.00 204.40 279.00 C204.80 277.00 205.23 274.17 205.60 272.00 C205.97 269.83 206.30 267.83 206.60 266.00 C206.90 264.17 207.13 262.83 207.40 261.00 C207.67 259.17 207.95 256.83 208.20 255.00 C208.45 253.17 208.62 251.50 208.90 250.00 C209.18 248.50 209.53 247.07 209.90 246.00 C210.27 244.93 210.75 243.67 211.10 243.60 C211.45 243.53 211.72 244.53 212.00 245.60 C212.28 246.67 212.50 248.27 212.80 250.00 C213.10 251.73 213.43 254.00 213.80 256.00 C214.17 258.00 214.63 260.00 215.00 262.00 C215.37 264.00 215.70 266.33 216.00 268.00 C216.30 269.67 216.47 270.33 216.80 272.00 C217.13 273.67 217.60 276.00 218.00 278.00 C218.40 280.00 218.72 282.00 219.20 284.00 C219.68 286.00 220.40 288.40 220.90 290.00 C221.40 291.60 221.82 293.08 222.20 293.60 C222.58 294.12 222.87 292.93 223.20 293.10 C223.53 293.27 223.87 294.17 224.20 294.60 C224.53 295.03 224.82 295.72 225.20 295.70 C225.58 295.68 226.12 294.42 226.50 294.50 C226.88 294.58 227.13 295.57 227.50 296.20 C227.87 296.83 228.00 297.37 228.70 298.30 C229.40 299.23 230.62 300.88 231.70 301.80 C232.78 302.72 234.03 303.32 235.20 303.80 C236.37 304.28 236.82 304.52 238.70 304.70 C240.58 304.88 245.20 304.87 246.50 304.90 L246.5 305.0 L181.6 305.0 Z" fill="#b3b3b3" stroke="none"/>
<path d="M181.60 302.70 C182.17 302.67 183.72 302.65 185.00 302.50 C186.28 302.35 188.13 302.10 189.30 301.80 C190.47 301.50 191.13 301.13 192.00 300.70 C192.87 300.27 193.73 299.75 194.50 299.20 C195.27 298.65 195.95 298.05 196.60 297.40 C197.25 296.75 197.87 296.12 198.40 295.30 C198.93 294.48 199.37 293.52 199.80 292.50 C200.23 291.48 200.60 290.28 201.00 289.20 C201.40 288.12 201.83 286.87 202.20 286.00 C202.57 285.13 202.83 285.17 203.20 284.00 C203.57 282.83 204.00 281.00 204.40 279.00 C204.80 277.00 205.23 274.17 205.60 272.00 C205.97 269.83 206.30 267.83 206.60 266.00 C206.90 264.17 207.13 262.83 207.40 261.00 C207.67 259.17 207.95 256.83 208.20 255.00 C208.45 253.17 208.62 251.50 208.90 250.00 C209.18 248.50 209.53 247.07 209.90 246.00 C210.27 244.93 210.75 243.67 211.10 243.60 C211.45 243.53 211.72 244.53 212.00 245.60 C212.28 246.67 212.50 248.27 212.80 250.00 C213.10 251.73 213.43 254.00 213.80 256.00 C214.17 258.00 214.63 260.00 215.00 262.00 C215.37 264.00 215.70 266.33 216.00 268.00 C216.30 269.67 216.47 270.33 216.80 272.00 C217.13 273.67 217.60 276.00 218.00 278.00 C218.40 280.00 218.72 282.00 219.20 284.00 C219.68 286.00 220.40 288.40 220.90 290.00 C221.40 291.60 221.82 293.08 222.20 293.60 C222.58 294.12 222.87 292.93 223.20 293.10 C223.53 293.27 223.87 294.17 224.20 294.60 C224.53 295.03 224.82 295.72 225.20 295.70 C225.58 295.68 226.12 294.42 226.50 294.50 C226.88 294.58 227.13 295.57 227.50 296.20 C227.87 296.83 228.00 297.37 228.70 298.30 C229.40 299.23 230.62 300.88 231.70 301.80 C232.78 302.72 234.03 303.32 235.20 303.80 C236.37 304.28 236.82 304.52 238.70 304.70 C240.58 304.88 245.20 304.87 246.50 304.90" fill="none" stroke="#161616" stroke-width="1.0" stroke-linejoin="round"/>
<text x="195.1" y="238.4" font-size="10.5" font-weight="normal" text-anchor="start" textLength="31.3" lengthAdjust="spacingAndGlyphs">unstim</text>
<line x1="278.8" y1="239.6" x2="345.3" y2="239.6" stroke="#a6a6a6" stroke-width="0.9" stroke-linecap="butt"/>
<line x1="344.8" y1="239.6" x2="344.8" y2="305.2" stroke="#bdbdbd" stroke-width="1.1" stroke-linecap="butt"/>
<line x1="278.8" y1="239.2" x2="278.8" y2="305.59999999999997" stroke="#6a6a6a" stroke-width="0.8" stroke-linecap="butt"/>
<line x1="278.40000000000003" y1="305.2" x2="345.2" y2="305.2" stroke="#3a3a3a" stroke-width="0.9" stroke-linecap="butt"/>
<line x1="276.8" y1="305.2" x2="278.8" y2="305.2" stroke="#666" stroke-width="0.6" stroke-linecap="butt"/>
<text x="275.4" y="306.1" font-size="2.7" font-weight="normal" text-anchor="end" fill="#666">0</text>
<line x1="276.8" y1="292.8" x2="278.8" y2="292.8" stroke="#666" stroke-width="0.6" stroke-linecap="butt"/>
<text x="275.4" y="293.7" font-size="2.7" font-weight="normal" text-anchor="end" fill="#666">20</text>
<line x1="276.8" y1="280.4" x2="278.8" y2="280.4" stroke="#666" stroke-width="0.6" stroke-linecap="butt"/>
<text x="275.4" y="281.3" font-size="2.7" font-weight="normal" text-anchor="end" fill="#666">40</text>
<line x1="276.8" y1="268.0" x2="278.8" y2="268.0" stroke="#666" stroke-width="0.6" stroke-linecap="butt"/>
<text x="275.4" y="268.9" font-size="2.7" font-weight="normal" text-anchor="end" fill="#666">60</text>
<line x1="276.8" y1="255.6" x2="278.8" y2="255.6" stroke="#666" stroke-width="0.6" stroke-linecap="butt"/>
<text x="275.4" y="256.5" font-size="2.7" font-weight="normal" text-anchor="end" fill="#666">80</text>
<line x1="276.8" y1="243.2" x2="278.8" y2="243.2" stroke="#666" stroke-width="0.6" stroke-linecap="butt"/>
<text x="275.4" y="244.1" font-size="2.7" font-weight="normal" text-anchor="end" fill="#666">100</text>
<line x1="277.8" y1="299.0" x2="278.8" y2="299.0" stroke="#888" stroke-width="0.4" stroke-linecap="butt"/>
<line x1="277.8" y1="286.59999999999997" x2="278.8" y2="286.59999999999997" stroke="#888" stroke-width="0.4" stroke-linecap="butt"/>
<line x1="277.8" y1="274.2" x2="278.8" y2="274.2" stroke="#888" stroke-width="0.4" stroke-linecap="butt"/>
<line x1="277.8" y1="261.8" x2="278.8" y2="261.8" stroke="#888" stroke-width="0.4" stroke-linecap="butt"/>
<line x1="277.8" y1="249.39999999999998" x2="278.8" y2="249.39999999999998" stroke="#888" stroke-width="0.4" stroke-linecap="butt"/>
<text x="269.4" y="273.4" font-size="2.5" font-weight="normal" text-anchor="middle" transform="rotate(-90 269.4 273.4)" fill="#666">% of Max</text>
<line x1="278.8" y1="305.2" x2="278.8" y2="306.8" stroke="#666" stroke-width="0.6" stroke-linecap="butt"/>
<text x="278.40" y="311.80" font-size="3.0" font-weight="normal" text-anchor="middle" fill="#777">10<tspan dy="-1.3" font-size="2.2">0</tspan></text>
<line x1="295.3" y1="305.2" x2="295.3" y2="306.8" stroke="#666" stroke-width="0.6" stroke-linecap="butt"/>
<text x="294.90" y="311.80" font-size="3.0" font-weight="normal" text-anchor="middle" fill="#777">10<tspan dy="-1.3" font-size="2.2">1</tspan></text>
<line x1="311.8" y1="305.2" x2="311.8" y2="306.8" stroke="#666" stroke-width="0.6" stroke-linecap="butt"/>
<text x="311.40" y="311.80" font-size="3.0" font-weight="normal" text-anchor="middle" fill="#777">10<tspan dy="-1.3" font-size="2.2">2</tspan></text>
<line x1="328.3" y1="305.2" x2="328.3" y2="306.8" stroke="#666" stroke-width="0.6" stroke-linecap="butt"/>
<text x="327.90" y="311.80" font-size="3.0" font-weight="normal" text-anchor="middle" fill="#777">10<tspan dy="-1.3" font-size="2.2">3</tspan></text>
<line x1="344.8" y1="305.2" x2="344.8" y2="306.8" stroke="#666" stroke-width="0.6" stroke-linecap="butt"/>
<text x="344.40" y="311.80" font-size="3.0" font-weight="normal" text-anchor="middle" fill="#777">10<tspan dy="-1.3" font-size="2.2">4</tspan></text>
<path d="M329.20 258.00 C329.32 257.42 329.63 255.67 329.90 254.50 C330.17 253.33 330.52 252.42 330.80 251.00 C331.08 249.58 331.30 247.20 331.60 246.00 C331.90 244.80 332.27 244.10 332.60 243.80 C332.93 243.50 333.27 244.07 333.60 244.20 C333.93 244.33 334.27 244.03 334.60 244.60 C334.93 245.17 335.30 245.80 335.60 247.60 C335.90 249.40 336.08 252.92 336.40 255.40 C336.72 257.88 337.07 259.23 337.50 262.50 C337.93 265.77 338.50 271.25 339.00 275.00 C339.50 278.75 340.05 282.05 340.50 285.00 C340.95 287.95 341.28 289.97 341.70 292.70 C342.12 295.43 342.57 299.37 343.00 301.40 C343.43 303.43 344.08 304.32 344.30 304.90" fill="none" stroke="#1c1c1c" stroke-width="0.9" stroke-linejoin="round"/>
<path d="M309.50 305.00 C309.58 304.67 309.78 303.53 310.00 303.00 C310.22 302.47 310.50 301.90 310.80 301.80 C311.10 301.70 311.50 302.25 311.80 302.40 C312.10 302.55 312.03 302.73 312.60 302.70 C313.17 302.67 314.57 302.38 315.20 302.20 C315.83 302.02 316.05 301.88 316.40 301.60 C316.75 301.32 317.00 301.10 317.30 300.50 C317.60 299.90 317.92 299.02 318.20 298.00 C318.48 296.98 318.63 296.15 319.00 294.40 C319.37 292.65 320.07 289.23 320.40 287.50 C320.73 285.77 320.77 285.92 321.00 284.00 C321.23 282.08 321.53 279.00 321.80 276.00 C322.07 273.00 322.33 269.00 322.60 266.00 C322.87 263.00 323.02 260.67 323.40 258.00 C323.78 255.33 324.53 252.00 324.90 250.00 C325.27 248.00 325.37 247.07 325.60 246.00 C325.83 244.93 326.05 243.60 326.30 243.60 C326.55 243.60 326.85 244.93 327.10 246.00 C327.35 247.07 327.52 248.67 327.80 250.00 C328.08 251.33 328.50 252.67 328.80 254.00 C329.10 255.33 329.40 256.33 329.60 258.00 C329.80 259.67 329.85 261.33 330.00 264.00 C330.15 266.67 330.30 270.67 330.50 274.00 C330.70 277.33 330.93 281.33 331.20 284.00 C331.47 286.67 331.73 288.12 332.10 290.00 C332.47 291.88 332.82 293.63 333.40 295.30 C333.98 296.97 334.73 298.63 335.60 300.00 C336.47 301.37 337.53 302.70 338.60 303.50 C339.67 304.30 341.02 304.55 342.00 304.80 C342.98 305.05 344.08 304.97 344.50 305.00 L344.5 305.2 L309.5 305.2 Z" fill="#b3b3b3" stroke="none"/>
<path d="M309.50 305.00 C309.58 304.67 309.78 303.53 310.00 303.00 C310.22 302.47 310.50 301.90 310.80 301.80 C311.10 301.70 311.50 302.25 311.80 302.40 C312.10 302.55 312.03 302.73 312.60 302.70 C313.17 302.67 314.57 302.38 315.20 302.20 C315.83 302.02 316.05 301.88 316.40 301.60 C316.75 301.32 317.00 301.10 317.30 300.50 C317.60 299.90 317.92 299.02 318.20 298.00 C318.48 296.98 318.63 296.15 319.00 294.40 C319.37 292.65 320.07 289.23 320.40 287.50 C320.73 285.77 320.77 285.92 321.00 284.00 C321.23 282.08 321.53 279.00 321.80 276.00 C322.07 273.00 322.33 269.00 322.60 266.00 C322.87 263.00 323.02 260.67 323.40 258.00 C323.78 255.33 324.53 252.00 324.90 250.00 C325.27 248.00 325.37 247.07 325.60 246.00 C325.83 244.93 326.05 243.60 326.30 243.60 C326.55 243.60 326.85 244.93 327.10 246.00 C327.35 247.07 327.52 248.67 327.80 250.00 C328.08 251.33 328.50 252.67 328.80 254.00 C329.10 255.33 329.40 256.33 329.60 258.00 C329.80 259.67 329.85 261.33 330.00 264.00 C330.15 266.67 330.30 270.67 330.50 274.00 C330.70 277.33 330.93 281.33 331.20 284.00 C331.47 286.67 331.73 288.12 332.10 290.00 C332.47 291.88 332.82 293.63 333.40 295.30 C333.98 296.97 334.73 298.63 335.60 300.00 C336.47 301.37 337.53 302.70 338.60 303.50 C339.67 304.30 341.02 304.55 342.00 304.80 C342.98 305.05 344.08 304.97 344.50 305.00" fill="none" stroke="#161616" stroke-width="1.0" stroke-linejoin="round"/>
<path d="M331.8 245.5 L332.6 243.6 L334.8 244.4 L335.4 247 L334.6 250 L333.6 247.5 L332.6 249.5 Z" fill="#111"/>
<text x="302.8" y="238.3" font-size="10.1" font-weight="normal" text-anchor="start" textLength="16.4" lengthAdjust="spacingAndGlyphs">P+I</text>
<line x1="178.5" y1="315.9" x2="314.4" y2="315.9" stroke="#000" stroke-width="1.4" stroke-linecap="butt"/>
<path d="M314.4 313.1 L319.8 315.9 L314.4 318.8 Z" fill="#fff" stroke="#000" stroke-width="1.25"/>
<text x="321.4" y="320.3" font-size="10" font-weight="bold">TNF-<tspan font-weight="normal" font-size="10.8">α</tspan></text>
<line x1="392.2" y1="131.3" x2="392.2" y2="215.35000000000002" stroke="#000" stroke-width="1.15" stroke-linecap="butt"/>
<line x1="391.65" y1="214.8" x2="517.8" y2="214.8" stroke="#000" stroke-width="1.15" stroke-linecap="butt"/>
<line x1="389.09999999999997" y1="131.8" x2="392.2" y2="131.8" stroke="#000" stroke-width="1.0" stroke-linecap="butt"/>
<text x="388.3" y="134.0" font-size="6.4" font-weight="bold" text-anchor="end" textLength="13.24" lengthAdjust="spacingAndGlyphs">2000</text>
<line x1="389.09999999999997" y1="152.4" x2="392.2" y2="152.4" stroke="#000" stroke-width="1.0" stroke-linecap="butt"/>
<text x="388.3" y="154.6" font-size="6.4" font-weight="bold" text-anchor="end" textLength="13.24" lengthAdjust="spacingAndGlyphs">1500</text>
<line x1="389.09999999999997" y1="173.0" x2="392.2" y2="173.0" stroke="#000" stroke-width="1.0" stroke-linecap="butt"/>
<text x="388.3" y="175.2" font-size="6.4" font-weight="bold" text-anchor="end" textLength="13.24" lengthAdjust="spacingAndGlyphs">1000</text>
<line x1="389.09999999999997" y1="194.0" x2="392.2" y2="194.0" stroke="#000" stroke-width="1.0" stroke-linecap="butt"/>
<text x="388.3" y="196.2" font-size="6.4" font-weight="bold" text-anchor="end" textLength="9.93" lengthAdjust="spacingAndGlyphs">500</text>
<line x1="389.09999999999997" y1="214.8" x2="392.2" y2="214.8" stroke="#000" stroke-width="1.0" stroke-linecap="butt"/>
<text x="388.3" y="217.0" font-size="6.4" font-weight="bold" text-anchor="end" textLength="3.31" lengthAdjust="spacingAndGlyphs">0</text>
<rect x="403.8" y="196.9" width="15.599999999999966" height="17.900000000000006" fill="#000" stroke="#000" stroke-width="1.1"/>
<rect x="427.4" y="179.8" width="15.700000000000045" height="35.0" fill="#fff" stroke="#000" stroke-width="1.1"/>
<line x1="435.25" y1="177.9" x2="435.25" y2="179.8" stroke="#000" stroke-width="0.9" stroke-linecap="butt"/>
<line x1="431.25" y1="177.9" x2="439.25" y2="177.9" stroke="#000" stroke-width="0.9" stroke-linecap="butt"/>
<rect x="466.6" y="171.0" width="15.099999999999966" height="43.80000000000001" fill="#000" stroke="#000" stroke-width="1.1"/>
<line x1="474.15" y1="166.0" x2="474.15" y2="171.0" stroke="#000" stroke-width="0.9" stroke-linecap="butt"/>
<line x1="470.15" y1="166.0" x2="478.15" y2="166.0" stroke="#000" stroke-width="0.9" stroke-linecap="butt"/>
<rect x="489.7" y="142.4" width="15.900000000000034" height="72.4" fill="#fff" stroke="#000" stroke-width="1.1"/>
<line x1="497.65" y1="140.3" x2="497.65" y2="142.4" stroke="#000" stroke-width="0.9" stroke-linecap="butt"/>
<line x1="493.65" y1="140.3" x2="501.65" y2="140.3" stroke="#000" stroke-width="0.9" stroke-linecap="butt"/>
<line x1="423.5" y1="214.8" x2="423.5" y2="217.60000000000002" stroke="#000" stroke-width="1.0" stroke-linecap="butt"/>
<text x="423.5" y="223.2" font-size="6.3" font-weight="bold" text-anchor="middle">unstim</text>
<line x1="486.1" y1="214.8" x2="486.1" y2="217.60000000000002" stroke="#000" stroke-width="1.0" stroke-linecap="butt"/>
<text x="486.1" y="223.2" font-size="6.3" font-weight="bold" text-anchor="middle">P+I</text>
<text x="369.7" y="173.1" font-size="6.6" font-weight="bold" text-anchor="middle" textLength="72.6" lengthAdjust="spacingAndGlyphs" transform="rotate(-90 369.7 173.1)">IFN<tspan font-size="5.4">γ</tspan> (MFI over isotype)</text>
<text x="411.8" y="162.2" font-size="7.8" font-weight="normal" fill="#222"><tspan font-style="italic">P</tspan> =.03</text>
<path d="M412.7 171.3 L412.7 167.5 Q412.7 164.8 415.4 164.8 L432.90000000000003 164.8 Q435.6 164.8 435.6 167.5 L435.6 171.3" fill="none" stroke="#000" stroke-width="1.25"/>
<text x="469.2" y="125.4" font-size="7.8" font-weight="normal" fill="#222"><tspan font-style="italic">P</tspan> =.05</text>
<path d="M472.0 135.4 L472.0 132.1 Q472.0 129.4 474.7 129.4 L492.6 129.4 Q495.3 129.4 495.3 132.1 L495.3 135.4" fill="none" stroke="#000" stroke-width="1.25"/>
<line x1="392.5" y1="229.8" x2="392.5" y2="311.55" stroke="#000" stroke-width="1.15" stroke-linecap="butt"/>
<line x1="391.95" y1="311.0" x2="518.3" y2="311.0" stroke="#000" stroke-width="1.15" stroke-linecap="butt"/>
<line x1="389.4" y1="255.7" x2="392.5" y2="255.7" stroke="#000" stroke-width="1.0" stroke-linecap="butt"/>
<text x="388.6" y="257.9" font-size="6.4" font-weight="bold" text-anchor="end" textLength="13.24" lengthAdjust="spacingAndGlyphs">1000</text>
<line x1="389.4" y1="283.5" x2="392.5" y2="283.5" stroke="#000" stroke-width="1.0" stroke-linecap="butt"/>
<text x="388.6" y="285.7" font-size="6.4" font-weight="bold" text-anchor="end" textLength="9.93" lengthAdjust="spacingAndGlyphs">500</text>
<line x1="389.4" y1="311.0" x2="392.5" y2="311.0" stroke="#000" stroke-width="1.0" stroke-linecap="butt"/>
<text x="388.6" y="313.2" font-size="6.4" font-weight="bold" text-anchor="end" textLength="3.31" lengthAdjust="spacingAndGlyphs">0</text>
<rect x="404.7" y="308.7" width="15.0" height="2.3000000000000114" fill="#000" stroke="#000" stroke-width="1.1"/>
<line x1="412.2" y1="307.0" x2="412.2" y2="308.7" stroke="#000" stroke-width="0.9" stroke-linecap="butt"/>
<line x1="408.2" y1="307.0" x2="416.2" y2="307.0" stroke="#000" stroke-width="0.9" stroke-linecap="butt"/>
<rect x="427.9" y="300.4" width="15.600000000000023" height="10.600000000000023" fill="#fff" stroke="#000" stroke-width="1.1"/>
<line x1="435.7" y1="298.5" x2="435.7" y2="300.4" stroke="#000" stroke-width="0.9" stroke-linecap="butt"/>
<line x1="431.7" y1="298.5" x2="439.7" y2="298.5" stroke="#000" stroke-width="0.9" stroke-linecap="butt"/>
<rect x="467.0" y="281.9" width="15.5" height="29.100000000000023" fill="#000" stroke="#000" stroke-width="1.1"/>
<line x1="474.75" y1="280.1" x2="474.75" y2="281.9" stroke="#000" stroke-width="0.9" stroke-linecap="butt"/>
<line x1="470.75" y1="280.1" x2="478.75" y2="280.1" stroke="#000" stroke-width="0.9" stroke-linecap="butt"/>
<rect x="490.4" y="252.9" width="16.0" height="58.099999999999994" fill="#fff" stroke="#000" stroke-width="1.1"/>
<line x1="498.4" y1="247.4" x2="498.4" y2="252.9" stroke="#000" stroke-width="0.9" stroke-linecap="butt"/>
<line x1="494.4" y1="247.4" x2="502.4" y2="247.4" stroke="#000" stroke-width="0.9" stroke-linecap="butt"/>
<line x1="423.8" y1="311.0" x2="423.8" y2="313.8" stroke="#000" stroke-width="1.0" stroke-linecap="butt"/>
<text x="423.8" y="319.2" font-size="6.3" font-weight="bold" text-anchor="middle">unstim</text>
<line x1="486.6" y1="311.0" x2="486.6" y2="313.8" stroke="#000" stroke-width="1.0" stroke-linecap="butt"/>
<text x="486.6" y="319.2" font-size="6.3" font-weight="bold" text-anchor="middle">P+I</text>
<text x="369.7" y="265.5" font-size="6.6" font-weight="bold" text-anchor="middle" textLength="68.6" lengthAdjust="spacingAndGlyphs" transform="rotate(-90 369.7 265.5)">TNF<tspan font-size="5.4">α</tspan> (MFI over isotype)</text>
<text x="410.6" y="285.5" font-size="7.8" font-weight="normal" fill="#222"><tspan font-style="italic">P</tspan> =.062</text>
<path d="M412.7 295.5 L412.7 292.2 Q412.7 289.5 415.4 289.5 L433.0 289.5 Q435.7 289.5 435.7 292.2 L435.7 295.5" fill="none" stroke="#000" stroke-width="1.25"/>
<text x="474.0" y="235.5" font-size="7.8" font-weight="normal" fill="#222"><tspan font-style="italic">P</tspan> =.033</text>
<path d="M476.7 245.5 L476.7 242.2 Q476.7 239.5 479.4 239.5 L497.1 239.5 Q499.8 239.5 499.8 242.2 L499.8 245.5" fill="none" stroke="#000" stroke-width="1.25"/>
</svg>
</body></html>
